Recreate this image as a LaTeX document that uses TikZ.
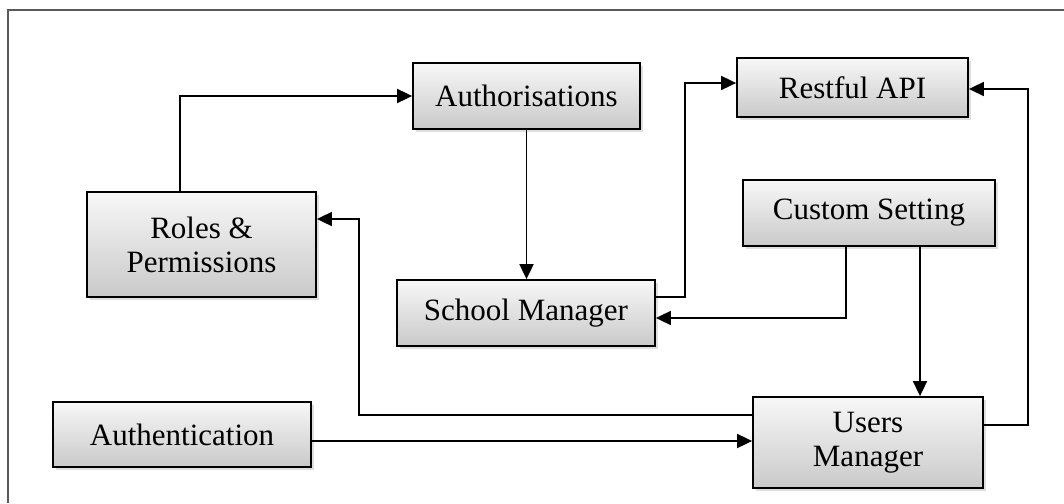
\documentclass[tikz,border=0pt]{standalone}
\usepackage{fontspec}
\setmainfont{Liberation Serif}
\usetikzlibrary{arrows.meta,shadows}

\begin{document}
\begin{tikzpicture}[x=1pt,y=-1pt,>=Stealth,
  module/.style={rectangle,draw=black,line width=1.8pt,top color=gray!6,bottom color=gray!42,
    drop shadow={opacity=0.25,shadow xshift=3pt,shadow yshift=-3pt},
    align=center,inner sep=0pt,font=\fontsize{31}{34}\selectfont},
  link/.style={-{Triangle[length=15pt,width=14pt]},line width=1.8pt}]
  \useasboundingbox (0,0) rectangle (1064,503);
  \draw[gray!70!black,line width=2pt] (8,503) -- (8,10) -- (1064,10);
  \node[module,minimum width=227pt,minimum height=66pt] (authz) at (526.5,96) {Authorisations};
  \node[module,minimum width=231pt,minimum height=59pt] (rest) at (852.5,87.5) {Restful API};
  \node[module,minimum width=252pt,minimum height=66pt] (custom) at (869,213) {Custom Setting};
  \node[module,minimum width=229pt,minimum height=105pt] (roles) at (201.5,244.5) {Roles \&\\Permissions};
  \node[module,minimum width=258pt,minimum height=66pt] (school) at (526,313) {School Manager};
  \node[module,minimum width=258pt,minimum height=65pt] (authn) at (182,434.5) {Authentication};
  \node[module,minimum width=230pt,minimum height=91pt] (users) at (868,442.5) {Users\\Manager};
  \coordinate (c2) at ([xshift=51pt]custom.south);
  \coordinate (e1) at ([yshift=-6.5pt]authn.east);
  \draw[link] ([xshift=-21.5pt]roles.north) |- (authz.west);
  \draw[link] (authz.south) -- (authz.south |- school.north);
  \draw[link] ([yshift=16pt]school.east) -- ++(29,0) |- ([yshift=4.5pt]rest.west);
  \draw[link] ([xshift=-23pt]custom.south) |- ([yshift=-5pt]school.east);
  \draw[link] (c2) -- (c2 |- users.north);
  \draw[link] ([yshift=27.5pt]users.west) -- ++(-393,0) |- ([yshift=25.5pt]roles.east);
  \draw[link] (e1) -- (e1 -| users.west);
  \draw[link] ([yshift=17.5pt]users.east) -- ++(44,0) |- ([yshift=-1.5pt]rest.east);
\end{tikzpicture}
\end{document}
